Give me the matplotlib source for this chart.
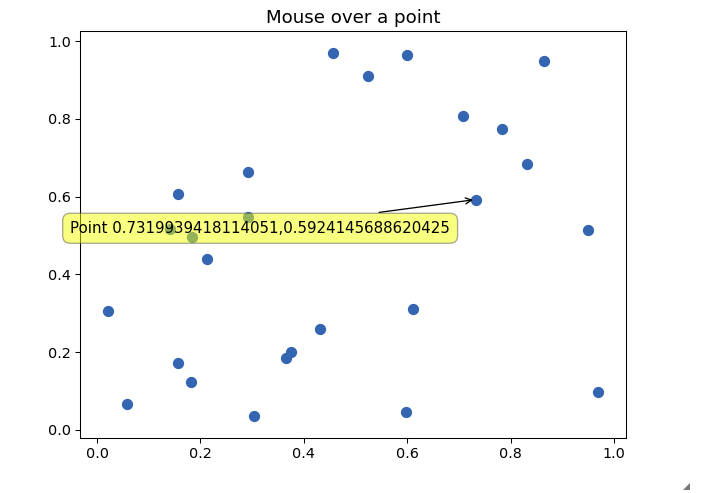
import matplotlib
matplotlib.use('Agg')
import matplotlib.pyplot as plt
from matplotlib.patches import Polygon

# scatter points
xs = [0.4565, 0.524, 0.600, 0.865, 0.708, 0.783, 0.832, 0.292, 0.157, 0.7319939418114051,
      0.292, 0.141, 0.184, 0.213, 0.950, 0.021, 0.611, 0.431, 0.375, 0.366,
      0.157, 0.182, 0.058, 0.304, 0.598, 0.969]
ys = [0.969, 0.910, 0.964, 0.949, 0.807, 0.774, 0.684, 0.663, 0.607, 0.5924145688620425,
      0.548, 0.517, 0.496, 0.440, 0.514, 0.306, 0.311, 0.260, 0.200, 0.185,
      0.172, 0.123, 0.067, 0.036, 0.046, 0.098]

hover = 9  # index of the point under the mouse

dpi = 94
fig = plt.figure(figsize=(710 / dpi, 493 / dpi), dpi=dpi)
ax = fig.add_axes([0.1127, 0.1116, 0.769, 0.8255])

ax.scatter(xs, ys, s=58, color='#3465b0', zorder=2)
ax.set_xlim(-0.033, 1.023)
ax.set_ylim(-0.021, 1.026)
ax.tick_params(labelsize=11)
ax.set_title('Mouse over a point', fontsize=14)

px, py = xs[hover], ys[hover]
ax.annotate('Point {},{}'.format(px, py), xy=(px, py),
            xytext=(-165, -22), textcoords='offset points',
            ha='center', va='center', fontsize=11.5, zorder=5,
            bbox=dict(boxstyle='round,pad=0.5', fc='#f4ff00', ec='#555555', alpha=0.5),
            arrowprops=dict(arrowstyle='->', color='black', lw=1))

# little resize grip in the corner of the window
fig.patches.append(Polygon([[683 / 710, 1 - 490 / 493], [690 / 710, 1 - 490 / 493],
                            [690 / 710, 1 - 483 / 493]], closed=True,
                           transform=fig.transFigure, fc='#777777', ec='none'))

fig.savefig('out.png', dpi=dpi)
